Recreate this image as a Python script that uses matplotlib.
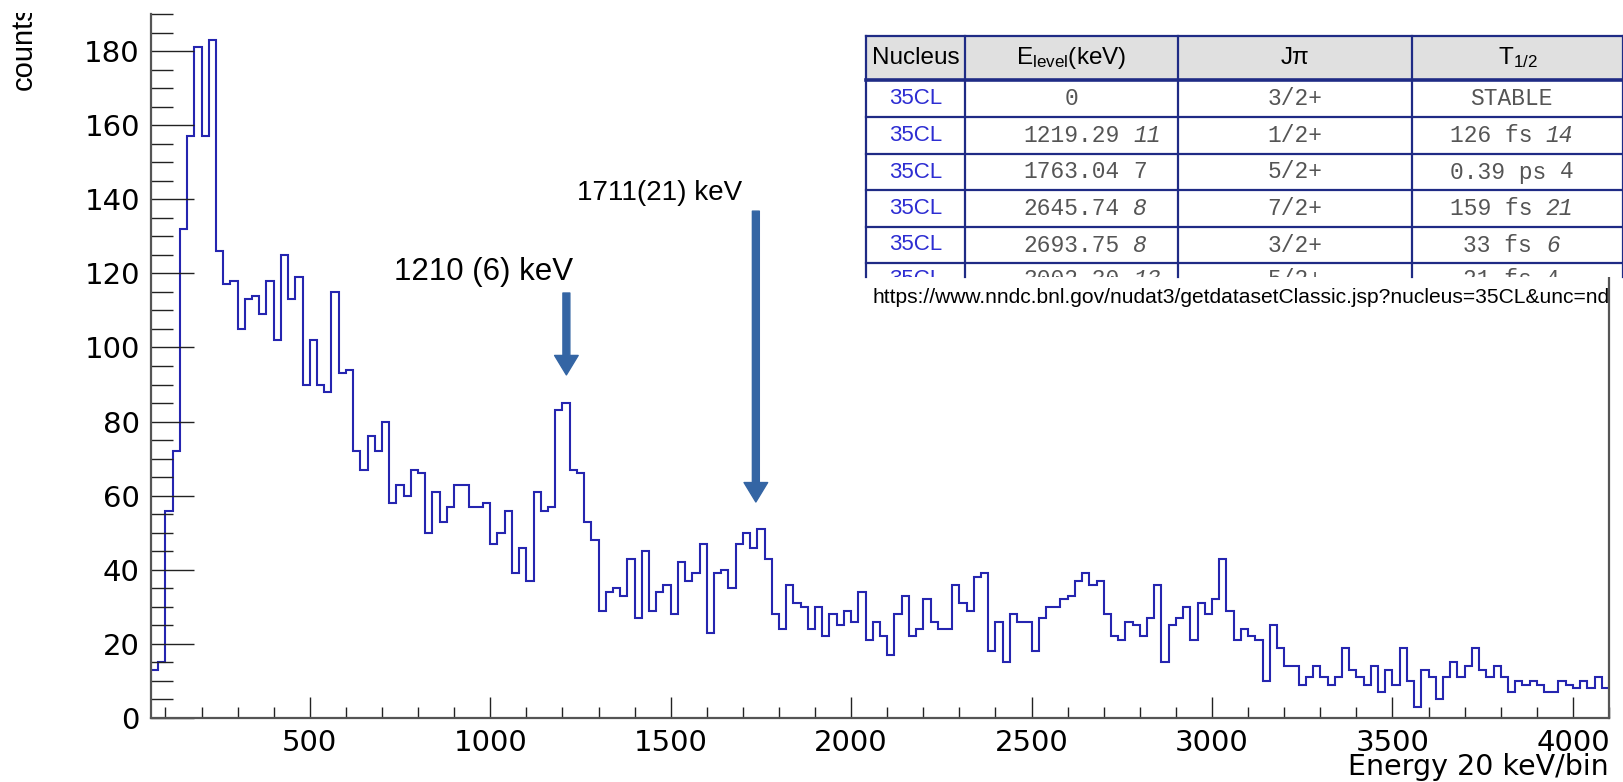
import numpy as np
import matplotlib
matplotlib.use("Agg")
import matplotlib.pyplot as plt
from matplotlib.patches import Rectangle, FancyArrowPatch
from matplotlib.lines import Line2D
from matplotlib.transforms import Bbox
from matplotlib.ticker import MultipleLocator

# ---------------- data ----------------
bin_start_kev = 60
bin_width_kev = 20
counts = [13, 15, 56, 72, 132, 157, 181, 157, 183, 126,
          117, 118, 105, 113, 114, 109, 118, 102, 125, 113,
          119, 90, 102, 90, 88, 115, 93, 94, 72, 67,
          76, 72, 80, 58, 63, 60, 67, 66, 50, 61,
          53, 57, 63, 63, 57, 57, 58, 47, 50, 56,
          39, 46, 37, 61, 56, 57, 83, 85, 67, 66,
          53, 48, 29, 34, 35, 33, 43, 27, 45, 29,
          34, 36, 28, 42, 37, 39, 47, 23, 39, 40,
          35, 47, 50, 46, 51, 43, 28, 24, 36, 31,
          30, 24, 30, 22, 28, 25, 29, 26, 34, 21,
          26, 22, 17, 28, 33, 22, 24, 32, 26, 24,
          24, 36, 31, 29, 38, 39, 18, 26, 15, 28,
          26, 26, 18, 27, 30, 30, 32, 33, 37, 39,
          36, 37, 28, 22, 21, 26, 25, 22, 27, 36,
          15, 25, 27, 30, 21, 31, 28, 32, 43, 29,
          21, 24, 22, 21, 10, 25, 19, 14, 14, 9,
          11, 14, 11, 9, 11, 19, 13, 11, 9, 14,
          7, 13, 9, 19, 10, 3, 13, 11, 5, 11,
          15, 11, 14, 19, 13, 11, 14, 11, 7, 10,
          9, 10, 9, 7, 7, 10, 9, 8, 10, 8,
          11, 8]

peak_labels = ["1210 (6) keV", "1711(21) keV"]
peak_energies = [1211, 1736]

x_label = "Energy 20 keV/bin"
y_label = "counts"

tbl_header = ["Nucleus", r"E$_{\mathrm{level}}$(keV)", "J\u03c0", r"T$_{1/2}$"]
tbl_nucleus = ["35CL", "35CL", "35CL", "35CL", "35CL", "35CL"]
tbl_energy = ["0", "1219.29", "1763.04", "2645.74", "2693.75", "3002.30"]
tbl_energy_unc = ["", "11", "7", "8", "8", "13"]
tbl_energy_unc_italic = [False, True, False, True, True, True]
tbl_jpi = ["3/2+", "1/2+", "5/2+", "7/2+", "3/2+", "5/2+"]
tbl_thalf = ["STABLE", "126 fs", "0.39 ps", "159 fs", "33 fs", "21 fs"]
tbl_thalf_unc = ["", "14", "4", "21", "6", "4"]
tbl_thalf_unc_italic = [False, True, False, True, True, False]
url_text = "https://www.nndc.bnl.gov/nudat3/getdatasetClassic.jsp?nucleus=35CL&unc=nd"

# ---------------- style ----------------
plt.rcParams['font.family'] = ['Liberation Sans', 'DejaVu Sans']
plt.rcParams['mathtext.fontset'] = 'custom'
plt.rcParams['mathtext.rm'] = 'Liberation Sans'
plt.rcParams['mathtext.it'] = 'Liberation Sans:italic'
plt.rcParams['mathtext.bf'] = 'Liberation Sans:bold'

W, H = 1624, 782
fig = plt.figure(figsize=(W / 100, H / 100), dpi=100)
fig.patch.set_facecolor('white')


def fx(x):
    return x / W


def fy(y):
    return 1 - y / H


ax_l, ax_r, ax_t, ax_b = 151, 1609, 14, 718
ax = fig.add_axes([fx(ax_l), fy(ax_b), (ax_r - ax_l) / W, (ax_b - ax_t) / H])

edges = bin_start_kev + bin_width_kev * np.arange(len(counts) + 1)
ax.stairs(counts, edges, baseline=None, color='#2525b0', lw=1.5)
ax.set_xlim(60, 4100)
ax.set_ylim(0, 190)

for s in ['left', 'bottom', 'right']:
    ax.spines[s].set_color('#555555')
    ax.spines[s].set_linewidth(1.6)
ax.spines['top'].set_visible(False)

ax.xaxis.set_major_locator(MultipleLocator(500))
ax.xaxis.set_minor_locator(MultipleLocator(100))
ax.yaxis.set_major_locator(MultipleLocator(20))
ax.yaxis.set_minor_locator(MultipleLocator(5))
ax.tick_params(axis='both', which='both', direction='in', top=False, right=False,
               colors='#222222', labelcolor='black', width=1.0)
ax.tick_params(axis='y', which='major', length=31, labelsize=21, pad=8)
ax.tick_params(axis='y', which='minor', length=15.8)
ax.tick_params(axis='x', which='major', length=15, labelsize=21, pad=8)
ax.tick_params(axis='x', which='minor', length=8)
for lab in ax.get_xticklabels() + ax.get_yticklabels():
    lab.set_fontfamily('DejaVu Sans')

# axis titles
fig.text(fx(ax_r), fy(775), x_label, ha='right', va='baseline', fontsize=20.5,
         family='DejaVu Sans')
yl = fig.text(fx(38), fy(90), y_label, rotation=90, ha='left', va='bottom',
              fontsize=21, rotation_mode='anchor')
yl.set_clip_box(Bbox.from_extents(0, 0, 150, H - 13))
yl.set_clip_on(True)

# peak arrows
arrow_color = '#3465a4'
arrow_spans = [(114.7, 92.6), (136.8, 58.3)]
for e, (y0, y1) in zip(peak_energies, arrow_spans):
    ar = FancyArrowPatch((e, y0), (e, y1),
                         arrowstyle='simple,head_length=0.7,head_width=0.85,tail_width=0.25',
                         mutation_scale=20, color=arrow_color, shrinkA=0, shrinkB=0,
                         zorder=5)
    ax.add_patch(ar)

fig.text(fx(394), fy(280), peak_labels[0], ha='left', va='baseline', fontsize=22.5)
fig.text(fx(577), fy(200), peak_labels[1], ha='left', va='baseline', fontsize=20)

# ---------------- table (inset picture) ----------------
Z = 10
fig.add_artist(Rectangle((fx(860), fy(277)), (W - 860) / W, 277 / H,
                         transform=fig.transFigure, facecolor='white',
                         edgecolor='none', zorder=Z))
t_left, t_right, t_top, t_cut = 866, 1623, 36, 277
col_x = [866, 965, 1178, 1412, 1623]
row_y = [36, 80, 117, 154, 190, 226.5, 263]
fig.add_artist(Rectangle((fx(t_left), fy(80)), (t_right - t_left) / W, 44 / H,
                         transform=fig.transFigure, facecolor='#e0e0e0',
                         edgecolor='none', zorder=Z + 1))
line_col = '#1f2b85'
for i, y in enumerate(row_y):
    lw = 2.6 if i == 1 else 1.6
    fig.add_artist(Line2D([fx(t_left), fx(t_right)], [fy(y), fy(y)],
                          transform=fig.transFigure, color=line_col, lw=lw, zorder=Z + 2))
for x in col_x:
    fig.add_artist(Line2D([fx(x), fx(x)], [fy(t_top), fy(t_cut)],
                          transform=fig.transFigure, color=line_col, lw=1.6, zorder=Z + 2))

col_c = [(col_x[i] + col_x[i + 1]) / 2 for i in range(4)]
for c, h in zip(col_c, tbl_header):
    fig.text(fx(c), fy(58), h, ha='center', va='center', fontsize=17.5, color='black',
             zorder=Z + 3)

mono = 'Liberation Mono'
msize = 16.5
cw = msize * 100 / 72 * 0.6  # char advance in px
gray = '#555555'
blue = '#2d2dd2'
row_centers = [98.5, 135.5, 172, 208.5, 245, 280]
clip_last = Bbox.from_extents(860, H - t_cut, W, H - 263)

for r, yc in enumerate(row_centers):
    texts = []
    texts.append(fig.text(fx(col_c[0]), fy(yc), tbl_nucleus[r], ha='center', va='center',
                          fontsize=16, color=blue, zorder=Z + 3))
    # energy: value centred, uncertainty appended
    val = tbl_energy[r]
    left = col_c[1] - len(val) * cw / 2
    texts.append(fig.text(fx(left), fy(yc), val, ha='left', va='center', family=mono,
                          fontsize=msize, color=gray, zorder=Z + 3))
    if tbl_energy_unc[r]:
        texts.append(fig.text(fx(left + (len(val) + 1) * cw), fy(yc), tbl_energy_unc[r],
                              ha='left', va='center', family=mono, fontsize=msize,
                              style='italic' if tbl_energy_unc_italic[r] else 'normal',
                              color=gray, zorder=Z + 3))
    texts.append(fig.text(fx(col_c[2]), fy(yc), tbl_jpi[r], ha='center', va='center',
                          family=mono, fontsize=msize, color=gray, zorder=Z + 3))
    tv, tu = tbl_thalf[r], tbl_thalf_unc[r]
    full = tv + (" " + tu if tu else "")
    left = col_c[3] - 6 - len(full) * cw / 2
    texts.append(fig.text(fx(left), fy(yc), tv, ha='left', va='center', family=mono,
                          fontsize=msize, color=gray, zorder=Z + 3))
    if tu:
        texts.append(fig.text(fx(left + (len(tv) + 1) * cw), fy(yc), tu, ha='left',
                              va='center', family=mono, fontsize=msize,
                              style='italic' if tbl_thalf_unc_italic[r] else 'normal',
                              color=gray, zorder=Z + 3))
    if r == len(row_centers) - 1:
        for t in texts:
            t.set_clip_box(clip_last)
            t.set_clip_on(True)

fig.text(fx(873), fy(303), url_text, ha='left', va='baseline', fontsize=15.1,
         color='black', zorder=Z + 3)

fig.savefig('out.png', dpi=100, facecolor='white')
